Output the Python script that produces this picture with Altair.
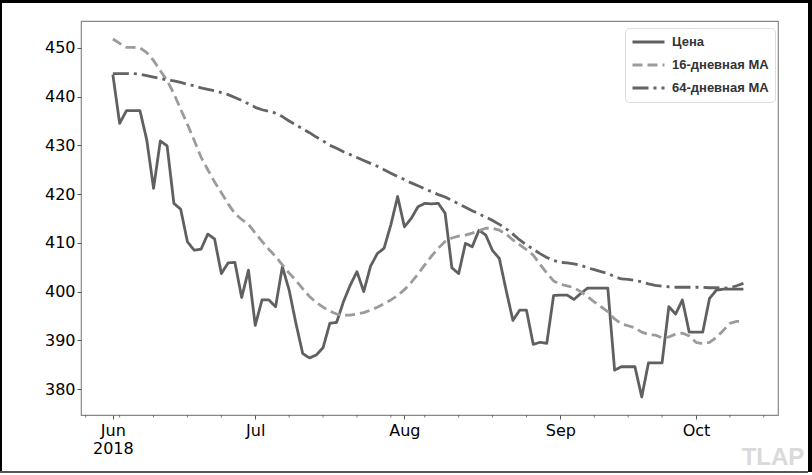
import altair as alt
import numpy as np
import pandas as pd

# ---------------- data ----------------
dates = pd.bdate_range("2018-06-01", periods=94)  # business days, Jun 1 .. Oct 10 2018

price = [444.5, 434.5, 437.1, 437.1, 437.1, 431.1, 421.2, 430.9, 429.9, 418.1,
         416.9, 410.2, 408.5, 408.7, 411.8, 410.8, 403.7, 405.9, 406.0, 398.8,
         404.4, 393.1, 398.3, 398.3, 396.9, 405.1, 400.3, 393.5, 387.3, 386.4,
         387.0, 388.5, 393.5, 393.7, 397.9, 401.3, 404.1, 400.0, 405.2, 407.8,
         408.9, 413.7, 419.5, 413.3, 415.0, 417.4, 418.1, 418.0, 418.1, 416.1,
         404.9, 403.7, 409.9, 409.2, 412.6, 411.6, 408.4, 406.8, 400.3, 394.1,
         396.2, 396.2, 389.2, 389.6, 389.4, 399.2, 399.3, 399.3, 398.4, 399.6,
         400.7, 400.7, 400.7, 400.7, 383.9, 384.6, 384.6, 384.6, 378.4, 385.4,
         385.4, 385.4, 396.9, 395.4, 398.3, 391.7, 391.7, 391.7, 398.6, 400.3,
         400.5, 400.5, 400.5, 400.5]

ma16 = [451.8, 450.9, 450.1, 450.1, 450.0, 449.0, 447.4, 445.3, 443.3, 440.6,
        437.4, 434.3, 431.0, 427.6, 425.0, 422.5, 420.3, 418.0, 416.0, 414.8,
        413.8, 412.0, 410.3, 408.7, 407.2, 405.5, 403.8, 402.3, 400.6, 399.0,
        397.8, 396.8, 396.0, 395.4, 395.2, 395.2, 395.4, 395.7, 396.2, 396.8,
        397.5, 398.3, 399.2, 400.4, 401.9, 403.6, 405.5, 407.3, 408.9, 410.3,
        411.0, 411.4, 411.6, 412.0, 412.5, 413.0, 413.0, 412.6, 411.8, 410.6,
        409.6, 408.6, 407.5, 405.6, 403.8, 402.2, 401.5, 401.2, 400.8, 400.0,
        399.0, 397.9, 396.9, 395.9, 394.4, 393.4, 393.0, 392.6, 391.7, 391.2,
        391.1, 390.5, 390.7, 391.3, 391.5, 390.9, 389.6, 389.3, 389.6, 390.6,
        392.0, 393.5, 393.9, 393.9]

ma64 = [444.7, 444.7, 444.7, 444.7, 444.6, 444.3, 444.0, 443.7, 443.4, 443.2,
        442.9, 442.5, 442.2, 441.8, 441.5, 441.2, 440.8, 440.4, 439.8, 439.2,
        438.5, 437.8, 437.3, 437.0, 436.6, 435.9, 435.0, 434.2, 433.4, 432.6,
        431.7, 430.9, 430.0, 429.4, 428.7, 428.1, 427.5, 426.9, 426.3, 425.7,
        425.0, 424.3, 423.6, 423.0, 422.3, 421.7, 421.1, 420.5, 419.9, 419.4,
        418.7, 418.0, 417.3, 416.6, 415.9, 415.3, 414.6, 413.8, 412.9, 411.8,
        410.6, 409.6, 408.7, 407.8, 407.0, 406.4, 406.0, 405.9, 405.7, 405.4,
        404.9, 404.5, 404.1, 403.7, 403.1, 402.6, 402.5, 402.3, 402.0, 401.6,
        401.3, 401.1, 401.0, 400.9, 400.9, 400.9, 400.9, 400.9, 400.8, 400.8,
        400.7, 400.8, 401.2, 401.7]

series_names = ["Цена", "16-дневная MA", "64-дневная MA"]
series_colors = ["#606060", "#9b9b9b", "#646464"]
series_dashes = [[1, 0], [10, 5], [16, 5, 3, 5]]
y_ticks = [380, 390, 400, 410, 420, 430, 440, 450]

# ---------------- derived tables ----------------
idx = np.arange(len(dates))
df = pd.DataFrame({"i": idx, "Цена": price, "16-дневная MA": ma16, "64-дневная MA": ma64})
long = df.melt(id_vars="i", var_name="series", value_name="value")
long["order"] = long["series"].map({n: k for k, n in enumerate(series_names)})

# major ticks: first business day of each month
month_first = [k for k in range(len(dates)) if k == 0 or dates[k].month != dates[k - 1].month]
label_parts = []
for k in month_first:
    name = dates[k].strftime("%b")
    if k == 0:
        label_parts.append(f"datum.value == {k} ? ['{name}', '{dates[k].year}']")
    else:
        label_parts.append(f"datum.value == {k} ? '{name}'")
label_expr = " : ".join(label_parts) + " : ''"

# minor ticks: Mondays on the business-day axis
axis_days = pd.bdate_range("2018-05-28", "2018-10-19")
start = list(axis_days).index(pd.Timestamp("2018-06-01"))
minor = pd.DataFrame({"i": np.arange(len(axis_days)) - start, "dow": axis_days.dayofweek})
minor = minor[(minor["dow"] == 0) & (~minor["i"].isin(month_first))]

W, H = 697, 394
PL, PT, PR, PB = 81, 21, 34, 60

xscale = alt.Scale(domain=[-4.7, 98.1], nice=False, zero=False)
yscale = alt.Scale(domain=[374.7, 455.5], nice=False, zero=False)

legend = alt.Legend(
    title=None, orient="none", legendX=544, legendY=7, padding=6,
    fillColor="white", strokeColor="#dddddd", cornerRadius=4,
    symbolType="stroke", symbolStrokeWidth=3, symbolSize=1024,
    clipHeight=16, rowPadding=7, labelOffset=6,
    labelFont="Liberation Sans", labelFontWeight="bold", labelFontSize=13,
    labelColor="#333333",
)

lines = alt.Chart(long).mark_line(strokeWidth=2.8, strokeJoin="round").encode(
    x=alt.X("i:Q", scale=xscale,
            axis=alt.Axis(values=month_first, labelExpr=label_expr, title=None, grid=False,
                          domain=False, tickSize=4, tickColor="#555555", labelPadding=3,
                          labelFont="DejaVu Sans", labelFontSize=16, labelColor="#000000",
                          labelLineHeight=18, labelFlush=False, labelOverlap=False)),
    y=alt.Y("value:Q", scale=yscale,
            axis=alt.Axis(values=y_ticks, title=None, grid=False, domain=False,
                          tickSize=4, tickColor="#555555", labelPadding=2,
                          labelFont="DejaVu Sans", labelFontSize=16, labelColor="#000000")),
    color=alt.Color("series:N", scale=alt.Scale(domain=series_names, range=series_colors),
                    legend=legend),
    strokeDash=alt.StrokeDash("series:N", scale=alt.Scale(domain=series_names, range=series_dashes),
                              legend=legend),
    detail="order:Q",
)

minor_ticks = alt.Chart(minor).mark_rule(color="#555555", strokeWidth=0.8).encode(
    x=alt.X("i:Q", scale=xscale), y=alt.value(H), y2=alt.value(H + 2.5)
)

one = pd.DataFrame({"a": [0]})

def bar(x1, x2, y1, y2, color):
    return alt.Chart(one).mark_rect(color=color).encode(
        x=alt.value(x1), x2=alt.value(x2), y=alt.value(y1), y2=alt.value(y2))

frame = [
    bar(-PL, W + PR, -PT, -PT + 3, "#000000"),          # top
    bar(-PL, -PL + 2, -PT, 472 - PT, "#000000"),        # left
    bar(808 - PL, W + PR, -PT, 472 - PT, "#000000"),    # right
    bar(-PL, 808 - PL, 471 - PT, 473 - PT, "#555555"),  # bottom
]

mark_tlap = alt.Chart(one).mark_text(
    text="TLAP", font="Liberation Sans", fontWeight="bold", fontSize=24,
    color="#dadada", align="center", baseline="alphabetic"
).encode(x=alt.value(773 - PL), y=alt.value(465 - PT))

chart = alt.layer(lines, minor_ticks, mark_tlap, *frame).properties(
    width=W, height=H,
    autosize=alt.AutoSizeParams(type="none"),
    padding={"left": PL, "top": PT, "right": PR, "bottom": PB},
    background="white",
).configure_view(stroke="#888888", strokeWidth=1.2)

chart.save("out.html", embed_options={"renderer": "svg", "actions": False})
